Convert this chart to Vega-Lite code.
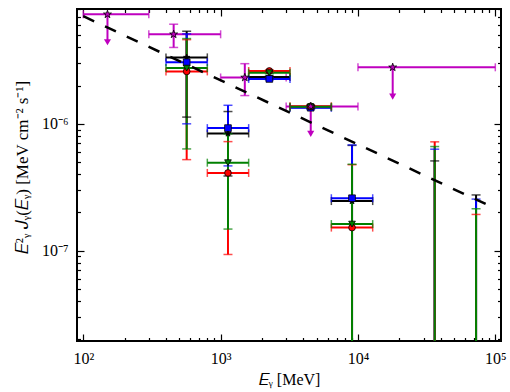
{
  "$schema": "https://vega.github.io/schema/vega-lite/v6.json",
  "width": 424,
  "height": 332,
  "autosize": {"type": "none"},
  "padding": {"left": 77, "top": 9, "right": 9, "bottom": 51},
  "background": "white",
  "view": {"stroke": "black", "strokeWidth": 2},
  "config": {
    "axis": {
      "labelFont": "Liberation Serif",
      "titleFont": "Liberation Serif",
      "labelFontSize": 16,
      "titleFontSize": 16,
      "labelColor": "black",
      "titleColor": "black",
      "titleFontWeight": "normal",
      "tickColor": "black",
      "tickWidth": 1.2,
      "grid": false,
      "domain": false,
      "labelFlush": false
    }
  },
  "datasets": {
    "main": [
      {"s": "black", "E": 566, "xlo": 400, "xhi": 800, "y": 3.34e-6, "ylo": 1.13e-6, "yhi": 5.37e-6},
      {"s": "black", "E": 1131, "xlo": 800, "xhi": 1600, "y": 8.4e-7, "ylo": 3.88e-7, "yhi": 1.25e-6},
      {"s": "black", "E": 2263, "xlo": 1600, "xhi": 3200, "y": 2.34e-6, "ylo": 2.3e-6, "yhi": 2.38e-6},
      {"s": "black", "E": 4525, "xlo": 3200, "xhi": 6400, "y": 1.35e-6, "ylo": 1.32e-6, "yhi": 1.38e-6},
      {"s": "black", "E": 9051, "xlo": 6400, "xhi": 12800, "y": 2.46e-7, "ylo": 1e-9, "yhi": 6.76e-7},
      {"s": "black", "E": 36204, "xlo": 25600, "xhi": 51200, "y": null, "ylo": 1e-9, "yhi": 5.1e-7},
      {"s": "black", "E": 72408, "xlo": 51200, "xhi": 102400, "y": null, "ylo": 1e-9, "yhi": 2.75e-7},
      {"s": "blue", "E": 566, "xlo": 400, "xhi": 800, "y": 3.06e-6, "ylo": 1.0e-6, "yhi": 5.12e-6},
      {"s": "blue", "E": 1131, "xlo": 800, "xhi": 1600, "y": 9.25e-7, "ylo": 4.66e-7, "yhi": 1.4e-6},
      {"s": "blue", "E": 2263, "xlo": 1600, "xhi": 3200, "y": 2.26e-6, "ylo": 2.22e-6, "yhi": 2.3e-6},
      {"s": "blue", "E": 4525, "xlo": 3200, "xhi": 6400, "y": 1.34e-6, "ylo": 1.31e-6, "yhi": 1.37e-6},
      {"s": "blue", "E": 9051, "xlo": 6400, "xhi": 12800, "y": 2.59e-7, "ylo": 1e-9, "yhi": 6.82e-7},
      {"s": "blue", "E": 36204, "xlo": 25600, "xhi": 51200, "y": null, "ylo": 1e-9, "yhi": 6.31e-7},
      {"s": "blue", "E": 72408, "xlo": 51200, "xhi": 102400, "y": null, "ylo": 1e-9, "yhi": 2.55e-7},
      {"s": "red", "E": 566, "xlo": 400, "xhi": 800, "y": 2.59e-6, "ylo": 5.22e-7, "yhi": 4.61e-6},
      {"s": "red", "E": 1131, "xlo": 800, "xhi": 1600, "y": 4.1e-7, "ylo": 9.33e-8, "yhi": 7.24e-7},
      {"s": "red", "E": 2263, "xlo": 1600, "xhi": 3200, "y": 2.61e-6, "ylo": 2.56e-6, "yhi": 2.66e-6},
      {"s": "red", "E": 4525, "xlo": 3200, "xhi": 6400, "y": 1.375e-6, "ylo": 1.345e-6, "yhi": 1.405e-6},
      {"s": "red", "E": 9051, "xlo": 6400, "xhi": 12800, "y": 1.52e-7, "ylo": 1e-9, "yhi": 4.76e-7},
      {"s": "red", "E": 36204, "xlo": 25600, "xhi": 51200, "y": null, "ylo": 1e-9, "yhi": 7.21e-7},
      {"s": "red", "E": 72408, "xlo": 51200, "xhi": 102400, "y": null, "ylo": 1e-9, "yhi": 1.93e-7},
      {"s": "green", "E": 566, "xlo": 400, "xhi": 800, "y": 2.75e-6, "ylo": 6.34e-7, "yhi": 4.7e-6},
      {"s": "green", "E": 1131, "xlo": 800, "xhi": 1600, "y": 4.94e-7, "ylo": 1.48e-7, "yhi": 8.34e-7},
      {"s": "green", "E": 2263, "xlo": 1600, "xhi": 3200, "y": 2.53e-6, "ylo": 2.48e-6, "yhi": 2.58e-6},
      {"s": "green", "E": 4525, "xlo": 3200, "xhi": 6400, "y": 1.363e-6, "ylo": 1.335e-6, "yhi": 1.39e-6},
      {"s": "green", "E": 9051, "xlo": 6400, "xhi": 12800, "y": 1.62e-7, "ylo": 1e-9, "yhi": 4.8e-7},
      {"s": "green", "E": 36204, "xlo": 25600, "xhi": 51200, "y": null, "ylo": 1e-9, "yhi": 6.62e-7},
      {"s": "green", "E": 72408, "xlo": 51200, "xhi": 102400, "y": null, "ylo": 1e-9, "yhi": 2.14e-7}
    ],
    "lat": [
      {"E": 150, "xlo": 100, "xhi": 300, "y": 7.3e-6, "ylo": 4.4e-6, "yhi": 7.3e-6, "ul": true},
      {"E": 455, "xlo": 300, "xhi": 1000, "y": 5.08e-6, "ylo": 4.0e-6, "yhi": 6.1e-6, "ul": false},
      {"E": 1500, "xlo": 1000, "xhi": 3000, "y": 2.32e-6, "ylo": 1.67e-6, "yhi": 2.98e-6, "ul": false},
      {"E": 4530, "xlo": 3000, "xhi": 10000, "y": 1.37e-6, "ylo": 8.34e-7, "yhi": 1.37e-6, "ul": true},
      {"E": 17900, "xlo": 10000, "xhi": 100000, "y": 2.79e-6, "ylo": 1.64e-6, "yhi": 2.79e-6, "ul": true}
    ],
    "powerlaw": [
      {"E": 100, "f": 7.05e-6},
      {"E": 100000, "f": 2.15e-7}
    ]
  },
  "resolve": {"axis": {"x": "independent", "y": "independent"}},
  "layer": [
    {
      "data": {"name": "lat"},
      "mark": {"type": "rule", "color": "#bf00bf", "strokeWidth": 2, "clip": true},
      "encoding": {
        "x": {"field": "xlo", "type": "quantitative", "scale": {"type": "log", "domain": [90, 110000]},
          "axis": {"orient": "bottom", "values": [100, 1000, 10000, 100000], "ticks": false, "labelPadding": 9,
            "labelExpr": "datum.value < 500 ? '10²' : datum.value < 5000 ? '10³' : datum.value < 50000 ? '10⁴' : '10⁵'",
            "title": "𝐸ᵧ [MeV]", "titlePadding": 5}},
        "x2": {"field": "xhi"},
        "y": {"field": "y", "type": "quantitative", "scale": {"type": "log", "domain": [1.94e-8, 8.04e-6]},
          "axis": {"orient": "left", "values": [1e-7, 1e-6], "ticks": false, "labelPadding": 9,
            "labelExpr": "datum.value < 5e-7 ? '10⁻⁷' : '10⁻⁶'",
            "title": "𝐸²ᵧ 𝐽ᵧ(𝐸ᵧ) [MeV cm⁻² s⁻¹]", "titleFontSize": 17, "titlePadding": 10, "titleY": 158}}
      }
    },
    {
      "data": {"name": "lat"},
      "mark": {"type": "rule", "color": "#bf00bf", "strokeWidth": 2, "clip": true},
      "encoding": {
        "x": {"field": "E", "type": "quantitative", "scale": {"type": "log", "domain": [90, 110000]},
          "axis": {"orient": "bottom", "values": [100, 1000, 10000, 100000], "labels": false, "tickSize": 7, "offset": -7, "title": null}},
        "y": {"field": "ylo", "type": "quantitative", "scale": {"type": "log", "domain": [1.94e-8, 8.04e-6]},
          "axis": {"orient": "left", "values": [1e-7, 1e-6], "labels": false, "tickSize": 7, "offset": -7, "title": null}},
        "y2": {"field": "yhi"}
      }
    },
    {
      "data": {"name": "lat"},
      "transform": [{"fold": ["xlo", "xhi"], "as": ["k", "xe"]}],
      "mark": {"type": "tick", "orient": "vertical", "color": "#bf00bf", "size": 8, "thickness": 1.5, "clip": true},
      "encoding": {
        "x": {"field": "xe", "type": "quantitative", "scale": {"type": "log", "domain": [90, 110000]},
          "axis": {"orient": "bottom", "values": [200, 300, 400, 500, 600, 700, 800, 900, 2000, 3000, 4000, 5000, 6000, 7000, 8000, 9000, 20000, 30000, 40000, 50000, 60000, 70000, 80000, 90000], "labels": false, "tickSize": 3.5, "offset": -3.5, "title": null}},
        "y": {"field": "y", "type": "quantitative", "scale": {"type": "log", "domain": [1.94e-8, 8.04e-6]},
          "axis": {"orient": "left", "values": [2e-8, 3e-8, 4e-8, 5e-8, 6e-8, 7e-8, 8e-8, 9e-8, 2e-7, 3e-7, 4e-7, 5e-7, 6e-7, 7e-7, 8e-7, 9e-7, 2e-6, 3e-6, 4e-6, 5e-6, 6e-6, 7e-6, 8e-6], "labels": false, "tickSize": 3.5, "offset": -3.5, "title": null}}
      }
    },
    {
      "data": {"name": "lat"},
      "transform": [{"filter": "!datum.ul"}, {"fold": ["ylo", "yhi"], "as": ["k", "ye"]}],
      "mark": {"type": "tick", "orient": "horizontal", "color": "#bf00bf", "size": 9, "thickness": 1.5, "clip": true},
      "encoding": {
        "x": {"field": "E", "type": "quantitative", "scale": {"type": "log", "domain": [90, 110000]},
          "axis": {"orient": "top", "values": [100, 1000, 10000, 100000], "labels": false, "tickSize": 7, "offset": -7, "title": null}},
        "y": {"field": "ye", "type": "quantitative", "scale": {"type": "log", "domain": [1.94e-8, 8.04e-6]},
          "axis": {"orient": "right", "values": [1e-7, 1e-6], "labels": false, "tickSize": 7, "offset": -7, "title": null}}
      }
    },
    {
      "data": {"name": "main"},
      "mark": {"type": "rule", "strokeWidth": 2, "clip": true},
      "encoding": {
        "x": {"field": "xlo", "type": "quantitative", "scale": {"type": "log", "domain": [90, 110000]},
          "axis": {"orient": "top", "values": [200, 300, 400, 500, 600, 700, 800, 900, 2000, 3000, 4000, 5000, 6000, 7000, 8000, 9000, 20000, 30000, 40000, 50000, 60000, 70000, 80000, 90000], "labels": false, "tickSize": 3.5, "offset": -3.5, "title": null}},
        "x2": {"field": "xhi"},
        "y": {"field": "y", "type": "quantitative", "scale": {"type": "log", "domain": [1.94e-8, 8.04e-6]},
          "axis": {"orient": "right", "values": [2e-8, 3e-8, 4e-8, 5e-8, 6e-8, 7e-8, 8e-8, 9e-8, 2e-7, 3e-7, 4e-7, 5e-7, 6e-7, 7e-7, 8e-7, 9e-7, 2e-6, 3e-6, 4e-6, 5e-6, 6e-6, 7e-6, 8e-6], "labels": false, "tickSize": 3.5, "offset": -3.5, "title": null}},
        "color": {"field": "s", "type": "nominal", "scale": {"domain": ["black", "blue", "red", "green"], "range": ["#000000", "#0000ff", "#ff0000", "#008000"]}, "legend": null}
      }
    },
    {
      "data": {"name": "main"},
      "transform": [{"fold": ["xlo", "xhi"], "as": ["k", "xe"]}],
      "mark": {"type": "tick", "orient": "vertical", "size": 8, "thickness": 1.5, "clip": true},
      "encoding": {
        "x": {"field": "xe", "type": "quantitative", "scale": {"type": "log", "domain": [90, 110000]}, "axis": null},
        "y": {"field": "y", "type": "quantitative", "scale": {"type": "log", "domain": [1.94e-8, 8.04e-6]}, "axis": null},
        "color": {"field": "s", "type": "nominal", "legend": null}
      }
    },
    {
      "data": {"name": "main"},
      "mark": {"type": "rule", "strokeWidth": 2, "clip": true},
      "encoding": {
        "x": {"field": "E", "type": "quantitative", "scale": {"type": "log", "domain": [90, 110000]}, "axis": null},
        "y": {"field": "ylo", "type": "quantitative", "scale": {"type": "log", "domain": [1.94e-8, 8.04e-6]}, "axis": null},
        "y2": {"field": "yhi"},
        "color": {"field": "s", "type": "nominal", "legend": null}
      }
    },
    {
      "data": {"name": "main"},
      "transform": [{"fold": ["ylo", "yhi"], "as": ["k", "ye"]}],
      "mark": {"type": "tick", "orient": "horizontal", "size": 9, "thickness": 1.5, "clip": true},
      "encoding": {
        "x": {"field": "E", "type": "quantitative", "scale": {"type": "log", "domain": [90, 110000]}, "axis": null},
        "y": {"field": "ye", "type": "quantitative", "scale": {"type": "log", "domain": [1.94e-8, 8.04e-6]}, "axis": null},
        "color": {"field": "s", "type": "nominal", "legend": null}
      }
    },
    {
      "data": {"name": "main"},
      "mark": {"type": "point", "filled": true, "stroke": "black", "strokeWidth": 0.8, "size": 45, "opacity": 1, "clip": true},
      "encoding": {
        "x": {"field": "E", "type": "quantitative", "scale": {"type": "log", "domain": [90, 110000]}, "axis": null},
        "y": {"field": "y", "type": "quantitative", "scale": {"type": "log", "domain": [1.94e-8, 8.04e-6]}, "axis": null},
        "color": {"field": "s", "type": "nominal", "legend": null},
        "shape": {"field": "s", "type": "nominal", "scale": {"domain": ["black", "blue", "red", "green"], "range": ["M0,-1L0.2245,-0.309L0.9511,-0.309L0.3633,0.118L0.5878,0.809L0,0.382L-0.5878,0.809L-0.3633,0.118L-0.9511,-0.309L-0.2245,-0.309Z", "square", "circle", "triangle-down"]}, "legend": null}
      }
    },
    {
      "data": {"name": "lat"},
      "mark": {"type": "point", "shape": "M0,-1L0.2245,-0.309L0.9511,-0.309L0.3633,0.118L0.5878,0.809L0,0.382L-0.5878,0.809L-0.3633,0.118L-0.9511,-0.309L-0.2245,-0.309Z", "filled": true, "fill": "#bf00bf", "stroke": "black", "strokeWidth": 0.8, "size": 70, "opacity": 1, "clip": true},
      "encoding": {
        "x": {"field": "E", "type": "quantitative", "scale": {"type": "log", "domain": [90, 110000]}, "axis": null},
        "y": {"field": "y", "type": "quantitative", "scale": {"type": "log", "domain": [1.94e-8, 8.04e-6]}, "axis": null}
      }
    },
    {
      "data": {"name": "lat"},
      "transform": [{"filter": "datum.ul"}],
      "mark": {"type": "point", "shape": "triangle-down", "filled": true, "fill": "#bf00bf", "strokeWidth": 0, "size": 50, "opacity": 1, "clip": true},
      "encoding": {
        "x": {"field": "E", "type": "quantitative", "scale": {"type": "log", "domain": [90, 110000]}, "axis": null},
        "y": {"field": "ylo", "type": "quantitative", "scale": {"type": "log", "domain": [1.94e-8, 8.04e-6]}, "axis": null}
      }
    },
    {
      "data": {"name": "powerlaw"},
      "mark": {"type": "line", "color": "black", "strokeWidth": 2.5, "strokeDash": [12, 12], "clip": true},
      "encoding": {
        "x": {"field": "E", "type": "quantitative", "scale": {"type": "log", "domain": [90, 110000]}, "axis": null},
        "y": {"field": "f", "type": "quantitative", "scale": {"type": "log", "domain": [1.94e-8, 8.04e-6]}, "axis": null}
      }
    }
  ]
}
